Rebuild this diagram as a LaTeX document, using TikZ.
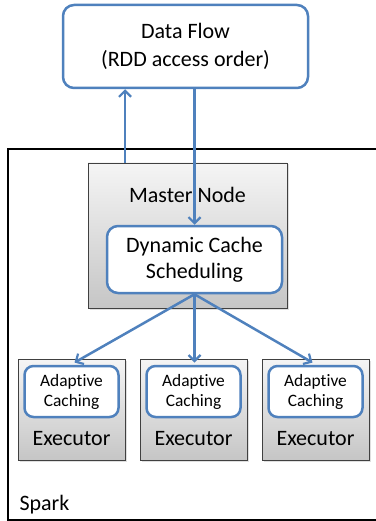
\documentclass[tikz,border=0pt]{standalone}
\usepackage{fontspec}
\setmainfont[Ligatures=NoCommon]{Carlito}
\usetikzlibrary{arrows.meta,shadows}
\definecolor{obl}{HTML}{4F81BD}
\begin{document}
\begin{tikzpicture}[x=1pt,y=-1pt,
  bluebox/.style={draw=obl,line width=2.5pt,rounded corners=11pt,fill=white,align=center,inner sep=0pt},
  graybox/.style={draw=black!75,line width=0.9pt,top color=gray!8,bottom color=gray!45,inner sep=0pt,
     drop shadow={shadow xshift=1.5pt,shadow yshift=-1.5pt,opacity=0.25}},
  conn/.style={draw=obl,line width=2.5pt,-{Straight Barb[length=6pt,width=12pt,line width=2.2pt]}},
  big/.style={font=\fontsize{22}{28}\selectfont},
  small/.style={font=\fontsize{17.4}{20}\selectfont}]
\useasboundingbox (0,0) rectangle (375,521);
\draw[line width=2.2pt] (8,149) rectangle (385,520);
\node[anchor=base west,big] (spark) at (16,510) {Spark};
\node[bluebox,big,minimum width=245pt,minimum height=83pt] (df) at (185.5,46.5) {Data Flow\\(RDD access order)};
\node[graybox,minimum width=199pt,minimum height=145pt] (master) at (187.5,235.5) {};
\node[big,anchor=base] (mtxt) at (187.5,202) {Master Node};
\node[bluebox,big,minimum width=175pt,minimum height=67pt,font=\fontsize{22}{26}\selectfont] (dcs) at (194.5,259.5) {Dynamic Cache\\Scheduling};
\foreach \i/\x in {1/71.5,2/193.5,3/315.5}{
  \node[graybox,minimum width=107pt,minimum height=101pt] (ex\i) at (\x,409.5) {};
  \node[bluebox,small,minimum width=94pt,minimum height=51pt,rounded corners=9pt] (ac\i) at (\x,391.5) {Adaptive\\Caching};
  \node[big,anchor=base] (et\i) at (\x,445) {Executor};
}
\coordinate (upx) at (125,0);
\draw[conn] (master.north -| upx) -- (df.south -| upx);
\draw[conn] (df.south -| dcs.north) -- (dcs.north);
\draw[conn] (dcs.south) -- ([xshift=3pt,yshift=-4pt]ex1.north);
\draw[conn] (dcs.south) -- ([yshift=-4pt]ex2.north -| dcs.south);
\draw[conn] (dcs.south) -- ([xshift=-3pt,yshift=-4pt]ex3.north);
\end{tikzpicture}
\end{document}
